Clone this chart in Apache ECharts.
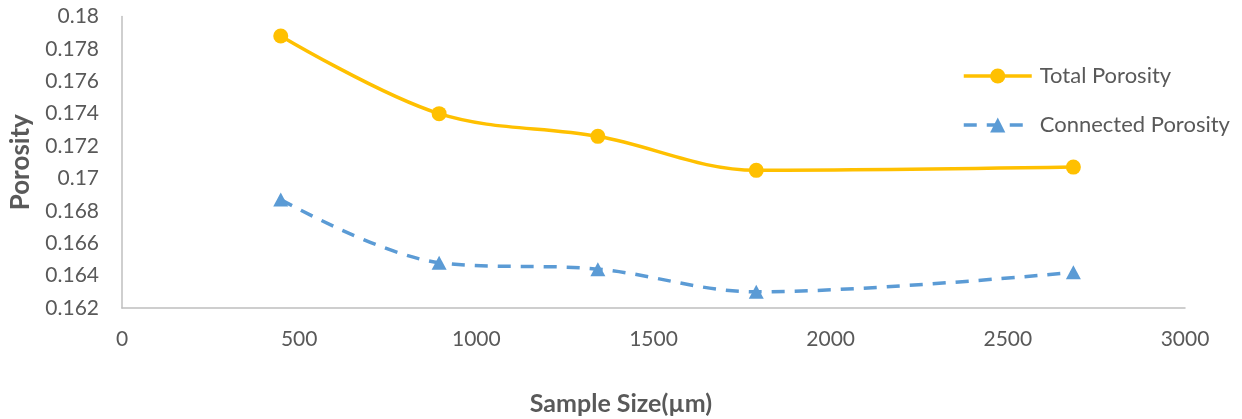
<!DOCTYPE html>
<html>
<head>
<meta charset="utf-8">
<script src="https://cdn.jsdelivr.net/npm/echarts@6/dist/echarts.min.js"></script>
<style>
  html, body { margin: 0; padding: 0; background: #fff; }
  #chart { width: 1242px; height: 419px; }
</style>
</head>
<body>
<div id="chart"></div>
<script>
// Sample sizes (µm) and porosity values
const sampleSizes = [448, 895, 1343, 1790, 2685];
const totalPorosity = [0.1788, 0.1740, 0.1726, 0.1705, 0.1707];
const connectedPorosity = [0.1687, 0.1648, 0.1644, 0.1630, 0.1642];
const seriesNames = ['Total Porosity', 'Connected Porosity'];

const labelFont = 'Lato, "Open Sans", sans-serif';
const toPairs = (xs, ys) => xs.map((x, i) => [x, ys[i]]);

const chart = echarts.init(document.getElementById('chart'), null, { renderer: 'canvas' });
chart.setOption({
  animation: false,
  backgroundColor: '#ffffff',
  title: {
    text: 'Sample Size(µm)',
    left: 'center',
    top: 386,
    textStyle: { fontFamily: labelFont, fontSize: 25, fontWeight: 'bold', color: '#595959' }
  },
  grid: { left: 119, right: 57, top: 16.5, bottom: 111, containLabel: false },
  legend: {
    orient: 'vertical',
    left: 962,
    top: 65,
    padding: 0,
    itemWidth: 68,
    itemHeight: 19,
    itemGap: 27,
    lineStyle: { width: 3.5 },
    textStyle: {
      fontFamily: labelFont, fontSize: 22, lineHeight: 22,
      color: '#595959', padding: [0, 0, 0, 3]
    },
    data: seriesNames
  },
  xAxis: {
    type: 'value',
    min: 0,
    max: 3000,
    interval: 500,
    axisLine: { show: true, lineStyle: { color: '#BFBFBF', width: 1.5 } },
    axisTick: { show: false },
    splitLine: { show: false },
    axisLabel: {
      margin: 21,
      fontFamily: labelFont,
      fontSize: 21,
      color: '#595959',
      formatter: v => String(v)
    }
  },
  yAxis: {
    type: 'value',
    min: 0.162,
    max: 0.18,
    interval: 0.002,
    name: 'Porosity',
    nameLocation: 'middle',
    nameGap: 88,
    nameTextStyle: { fontFamily: labelFont, fontSize: 26, fontWeight: 'bold', color: '#595959' },
    axisLine: { show: true, lineStyle: { color: '#BFBFBF', width: 1.5 } },
    axisTick: { show: false },
    splitLine: { show: false },
    axisLabel: {
      margin: 23,
      fontFamily: labelFont,
      fontSize: 21,
      color: '#595959',
      formatter: v => String(parseFloat(v.toFixed(3)))
    }
  },
  series: [
    {
      name: seriesNames[0],
      type: 'line',
      smooth: 0.35,
      data: toPairs(sampleSizes, totalPorosity),
      symbol: 'circle',
      symbolSize: 15,
      itemStyle: { color: '#FFC000' },
      lineStyle: { color: '#FFC000', width: 3.5 }
    },
    {
      name: seriesNames[1],
      type: 'line',
      smooth: 0.35,
      data: toPairs(sampleSizes, connectedPorosity),
      symbol: 'triangle',
      symbolSize: [15, 14],
      itemStyle: { color: '#5B9BD5' },
      lineStyle: { color: '#5B9BD5', width: 3.5, type: [13, 10] }
    }
  ]
});
</script>
</body>
</html>
